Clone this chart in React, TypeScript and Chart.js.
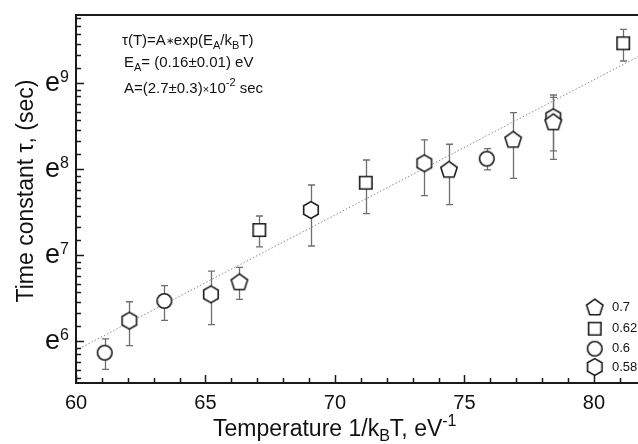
import React, { useEffect, useRef } from "react";
import { Chart, registerables } from "chart.js";
Chart.register(...registerables);

// x: 1/kBT (eV^-1), y: ln(tau / sec)
const xPentagon = [66.31, 74.4, 76.88, 78.43];
const yPentagon = [6.693, 8.0, 8.349, 8.553];
const loPentagon = [6.488, 7.588, 7.895, 8.116];
const hiPentagon = [6.86, 8.291, 8.658, 8.837];

const xSquare = [67.08, 71.19, 81.13];
const ySquare = [7.294, 7.844, 9.465];
const loSquare = [7.097, 7.484, 9.259];
const hiSquare = [7.457, 8.108, 9.628];

const xCircle = [61.11, 63.41, 75.86];
const yCircle = [5.867, 6.469, 8.123];
const loCircle = [5.674, 6.244, 7.992];
const hiCircle = [6.027, 6.647, 8.24];

const xHexagon = [62.06, 65.21, 69.07, 73.45, 78.43];
const yHexagon = [6.24, 6.546, 7.527, 8.07, 8.605];
const loHexagon = [5.949, 6.193, 7.108, 7.693, 8.213];
const hiHexagon = [6.46, 6.817, 7.817, 8.341, 8.864];

const fitX = [60, 81.7];
const fitY = [5.895, 9.309];

const seriesLabels = ["0.7", "0.62", "0.6", "0.58"];
const seriesKinds = ["pentagon", "square", "circle", "hexagon"];
const xTicks = [60, 65, 70, 75, 80];
const yTickExponents = [6, 7, 8, 9];

const X_MIN = 60;
const X_MAX = 81.7;
const Y_MIN = 5.515;
const Y_MAX = 9.794;

const FONT = '"Liberation Sans", Arial, Helvetica, sans-serif';
const INK = "#1a1a1a";

function makeMarker(kind: string): HTMLCanvasElement {
  const c = document.createElement("canvas");
  c.width = 22;
  c.height = 22;
  const ctx = c.getContext("2d")!;
  ctx.fillStyle = "#ffffff";
  ctx.strokeStyle = INK;
  ctx.lineWidth = 1.6;
  ctx.lineJoin = "miter";
  const cx = 11;
  const cy = 11;
  ctx.beginPath();
  if (kind === "circle") {
    ctx.arc(cx, cy, 7.3, 0, Math.PI * 2);
  } else if (kind === "square") {
    ctx.rect(cx - 6.2, cy - 6.2, 12.4, 12.4);
  } else {
    const n = kind === "pentagon" ? 5 : 6;
    const r = kind === "pentagon" ? 8.6 : 8.4;
    const oy = kind === "pentagon" ? 0.8 : 0;
    for (let i = 0; i < n; i++) {
      const a = -Math.PI / 2 + (i * 2 * Math.PI) / n;
      const px = cx + r * Math.cos(a);
      const py = cy + oy + r * Math.sin(a);
      if (i === 0) ctx.moveTo(px, py);
      else ctx.lineTo(px, py);
    }
  }
  ctx.closePath();
  ctx.fill();
  ctx.stroke();
  return c;
}

type Part = { t: string; size: number; dy?: number };

function partsWidth(ctx: CanvasRenderingContext2D, parts: Part[]) {
  let w = 0;
  for (const p of parts) {
    ctx.font = `${p.size}px ${FONT}`;
    w += ctx.measureText(p.t).width;
  }
  return w;
}

function drawParts(ctx: CanvasRenderingContext2D, x: number, y: number, parts: Part[]) {
  ctx.textAlign = "left";
  ctx.textBaseline = "alphabetic";
  let cx = x;
  for (const p of parts) {
    ctx.font = `${p.size}px ${FONT}`;
    ctx.fillText(p.t, cx, y + (p.dy || 0));
    cx += ctx.measureText(p.t).width;
  }
}

export default function App() {
  const ref = useRef<HTMLCanvasElement | null>(null);

  useEffect(() => {
    const canvas = ref.current;
    if (!canvas) return;
    const markers: Record<string, HTMLCanvasElement> = {};
    for (const k of seriesKinds) markers[k] = makeMarker(k);

    const seriesX = [xPentagon, xSquare, xCircle, xHexagon];
    const seriesY = [yPentagon, ySquare, yCircle, yHexagon];
    const seriesLo = [loPentagon, loSquare, loCircle, loHexagon];
    const seriesHi = [hiPentagon, hiSquare, hiCircle, hiHexagon];

    const datasets: any[] = seriesX.map((xs, s) => ({
      type: "scatter",
      label: seriesLabels[s],
      data: xs.map((x, i) => ({ x, y: seriesY[s][i] })),
      pointStyle: markers[seriesKinds[s]],
      pointRadius: 6,
      order: 1,
    }));
    datasets.push({
      type: "line",
      label: "fit",
      data: fitX.map((x, i) => ({ x, y: fitY[i] })),
      borderColor: "#8a8a8a",
      borderWidth: 1,
      borderDash: [1.5, 2],
      pointRadius: 0,
      fill: false,
      order: 5,
    });

    const decor = {
      id: "decor",
      beforeDatasetsDraw(chart: any) {
        const ctx: CanvasRenderingContext2D = chart.ctx;
        const xs = chart.scales.x;
        const ys = chart.scales.y;
        ctx.save();
        ctx.strokeStyle = "#6e6e6e";
        ctx.lineWidth = 1.3;
        for (let s = 0; s < seriesX.length; s++) {
          for (let i = 0; i < seriesX[s].length; i++) {
            const px = Math.round(xs.getPixelForValue(seriesX[s][i])) + 0.5;
            const top = ys.getPixelForValue(seriesHi[s][i]);
            const bot = ys.getPixelForValue(seriesLo[s][i]);
            ctx.beginPath();
            ctx.moveTo(px, top);
            ctx.lineTo(px, bot);
            ctx.moveTo(px - 3.5, top);
            ctx.lineTo(px + 3.5, top);
            ctx.moveTo(px - 3.5, bot);
            ctx.lineTo(px + 3.5, bot);
            ctx.stroke();
          }
        }
        ctx.restore();
      },
      afterDraw(chart: any) {
        const ctx: CanvasRenderingContext2D = chart.ctx;
        const a = chart.chartArea;
        const xs = chart.scales.x;
        const ys = chart.scales.y;
        ctx.save();
        // axes frame
        ctx.strokeStyle = INK;
        ctx.lineWidth = 2;
        ctx.beginPath();
        ctx.moveTo(a.right, a.top);
        ctx.lineTo(a.left, a.top);
        ctx.lineTo(a.left, a.bottom);
        ctx.lineTo(a.right, a.bottom);
        ctx.stroke();

        // x ticks (inward)
        ctx.lineWidth = 1.5;
        ctx.beginPath();
        for (let v = Math.ceil(X_MIN); v <= X_MAX; v++) {
          const px = Math.round(xs.getPixelForValue(v)) + 0.5;
          const major = xTicks.includes(v);
          ctx.moveTo(px, a.bottom);
          ctx.lineTo(px, a.bottom - (major ? 8 : 5));
        }
        // y ticks (inward), minor ticks linear in tau between powers of e
        for (let n = 5; n <= 10; n++) {
          for (let k = 0; k < 9; k++) {
            const v = n + Math.log(1 + (k * (Math.E - 1)) / 9);
            if (v < Y_MIN || v > Y_MAX) continue;
            const py = Math.round(ys.getPixelForValue(v)) + 0.5;
            ctx.moveTo(a.left, py);
            ctx.lineTo(a.left + (k === 0 ? 8 : 5), py);
          }
        }
        ctx.stroke();

        ctx.fillStyle = "#111";
        // x tick labels
        ctx.font = `20px ${FONT}`;
        ctx.textAlign = "center";
        ctx.textBaseline = "alphabetic";
        for (const v of xTicks) {
          ctx.fillText(String(v), xs.getPixelForValue(v), 409);
        }
        // y tick labels e^n
        for (const n of yTickExponents) {
          const py = ys.getPixelForValue(n);
          drawParts(ctx, 45, py + 8, [
            { t: "e", size: 27 },
            { t: String(n), size: 16, dy: -9.5 },
          ]);
        }

        // x title
        drawParts(ctx, 213, 436, [
          { t: "Temperature 1/k", size: 23 },
          { t: "B", size: 16, dy: 5 },
          { t: "T, eV", size: 23 },
          { t: "-1", size: 16, dy: -10 },
        ]);

        // y title
        const yTitle: Part[] = [{ t: "Time constant \u03C4, (sec)", size: 23 }];
        const yw = partsWidth(ctx, yTitle);
        ctx.save();
        ctx.translate(33, 191);
        ctx.rotate(-Math.PI / 2);
        drawParts(ctx, -yw / 2, 0, yTitle);
        ctx.restore();

        // annotation
        drawParts(ctx, 122, 45, [
          { t: "\u03C4(T)=A", size: 15 },
          { t: "\u2217", size: 10, dy: -1 },
          { t: "exp(E", size: 15 },
          { t: "A", size: 11, dy: 4 },
          { t: "/k", size: 15 },
          { t: "B", size: 11, dy: 4 },
          { t: "T)", size: 15 },
        ]);
        drawParts(ctx, 124, 67, [
          { t: "E", size: 15 },
          { t: "A", size: 11, dy: 4 },
          { t: "= (0.16\u00B10.01) eV", size: 15 },
        ]);
        drawParts(ctx, 124, 93, [
          { t: "A=(2.7\u00B10.3)", size: 15 },
          { t: "\u00D7", size: 11 },
          { t: "10", size: 15 },
          { t: "-2", size: 11, dy: -7 },
          { t: " sec", size: 15 },
        ]);

        // legend
        const legY = [307, 328.7, 348.7, 367];
        ctx.font = `13px ${FONT}`;
        ctx.textAlign = "left";
        ctx.textBaseline = "middle";
        for (let s = 0; s < seriesKinds.length; s++) {
          const m = markers[seriesKinds[s]];
          ctx.drawImage(m, 594.7 - m.width / 2, legY[s] - m.height / 2);
          ctx.fillText(seriesLabels[s], 612, legY[s]);
        }
        ctx.restore();
      },
    };

    const chart = new Chart(canvas, {
      type: "scatter",
      data: { datasets },
      options: {
        animation: false,
        responsive: false,
        devicePixelRatio: 1,
        events: [],
        layout: { autoPadding: false, padding: { left: 76, top: 15, right: 0, bottom: 61 } },
        plugins: { legend: { display: false }, tooltip: { enabled: false } },
        scales: {
          x: { type: "linear", min: X_MIN, max: X_MAX, display: false },
          y: { type: "linear", min: Y_MIN, max: Y_MAX, display: false },
        },
      },
      plugins: [decor],
    } as any);
    return () => chart.destroy();
  }, []);

  return (
    <div style={{ position: "fixed", left: 0, top: 0, width: 638, height: 444, background: "#fff" }}>
      <canvas ref={ref} width={638} height={444} style={{ display: "block", width: 638, height: 444 }} />
    </div>
  );
}
